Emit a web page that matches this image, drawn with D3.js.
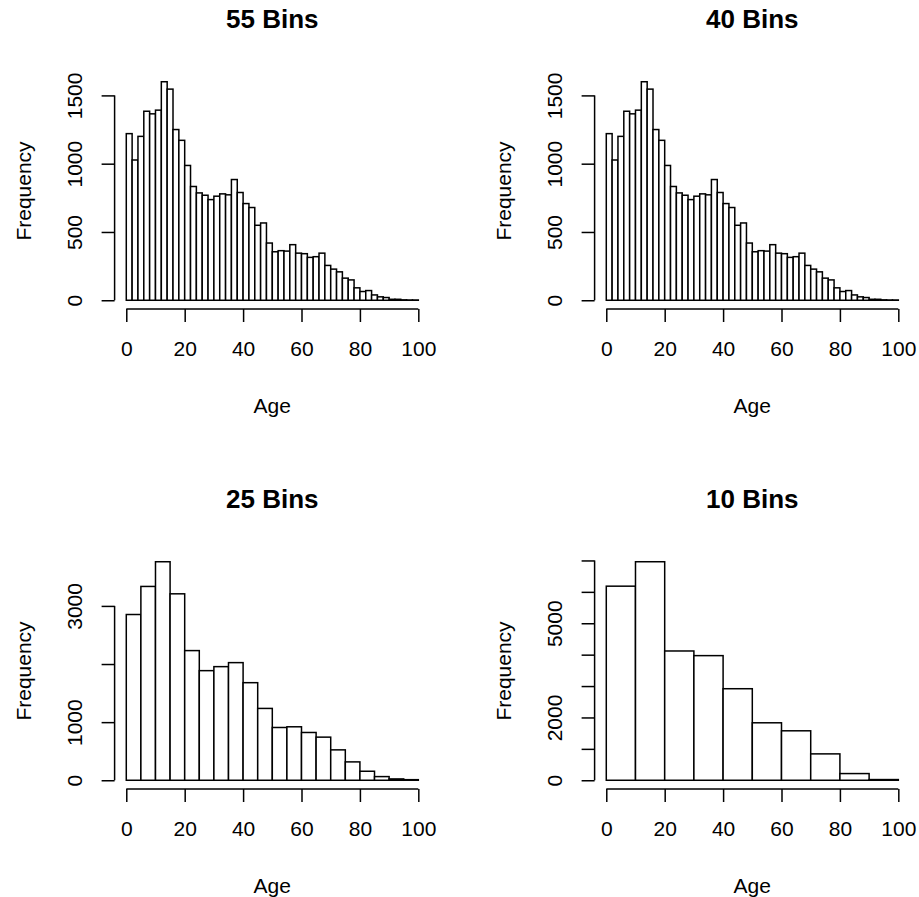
<!DOCTYPE html>
<html>
<head>
<meta charset="utf-8">
<script src="https://cdn.jsdelivr.net/npm/d3@7"></script>
<style>
  html, body { margin: 0; padding: 0; background: #fff; }
  svg text { font-family: "Liberation Sans", Arial, Helvetica, sans-serif; fill: #000; }
</style>
</head>
<body>
<svg id="chart" width="919" height="897"></svg>
<script>
// ---- Data ----
const panelTitles = ["55 Bins", "40 Bins", "25 Bins", "10 Bins"];
const xTickValues = [0, 20, 40, 60, 80, 100];
const xLabel = "Age";
const yLabel = "Frequency";

// 2-year bins 0..100 (used by the "55 Bins" and "40 Bins" panels)
const breaks2 = d3.range(0, 101, 2);
const counts2 = [1220, 1027, 1200, 1384, 1365, 1392, 1600, 1546, 1250, 1171,
                 987, 833, 786, 769, 737, 762, 779, 772, 884, 789,
                 708, 679, 549, 566, 419, 355, 363, 360, 407, 345,
                 341, 314, 319, 345, 255, 228, 208, 162, 149, 91,
                 64, 71, 39, 25, 20, 7, 7, 3, 2, 2];
// 5-year bins ("25 Bins" panel)
const breaks5 = d3.range(0, 101, 5);
const counts5 = [2852, 3335, 3760, 3208, 2231, 1886, 1955, 2024, 1679, 1236,
                 908, 920, 822, 742, 523, 316, 155, 63, 23, 10];
// 10-year bins ("10 Bins" panel)
const breaks10 = d3.range(0, 101, 10);
const counts10 = [6181, 6959, 4117, 3969, 2915, 1830, 1575, 840, 213, 22];

// y-axis ticks and the labels that are printed
const yTicks55 = [0, 500, 1000, 1500];
const yLabels55 = [0, 500, 1000, 1500];
const yTicks25 = [0, 1000, 2000, 3000];
const yLabels25 = [0, 1000, 3000];
const yTicks10 = [0, 1000, 2000, 3000, 4000, 5000, 6000, 7000];
const yLabels10 = [0, 2000, 5000];

const panels = [
  {title: panelTitles[0], breaks: breaks2,  counts: counts2,  yTicks: yTicks55, yLabels: yLabels55, col: 0, row: 0},
  {title: panelTitles[1], breaks: breaks2,  counts: counts2,  yTicks: yTicks55, yLabels: yLabels55, col: 1, row: 0},
  {title: panelTitles[2], breaks: breaks5,  counts: counts5,  yTicks: yTicks25, yLabels: yLabels25, col: 0, row: 1},
  {title: panelTitles[3], breaks: breaks10, counts: counts10, yTicks: yTicks10, yLabels: yLabels10, col: 1, row: 1}
];

// ---- Layout ----
const svg = d3.select("#chart");
const plotW = 315.4, plotH = 236;
const originX = 114.6, originY = 73, offset = 480;
const lw = 1.5;
const tickLen = 13;
const axisFont = 21, titleFont = 26;

panels.forEach(p => {
  const left = originX + p.col * offset;
  const top = originY + p.row * offset;
  const right = left + plotW, bottom = top + plotH;
  const maxC = d3.max(p.counts);
  const x = d3.scaleLinear().domain([-4, 104]).range([left, right]);
  const y = d3.scaleLinear().domain([-0.04 * maxC, 1.04 * maxC]).range([bottom, top]);

  const g = svg.append("g");

  // bars
  const bins = p.counts.map((c, i) => ({x0: p.breaks[i], x1: p.breaks[i + 1], c}));
  g.selectAll("rect.bar").data(bins).join("rect")
    .attr("class", "bar")
    .attr("x", d => x(d.x0))
    .attr("width", d => x(d.x1) - x(d.x0))
    .attr("y", d => y(d.c))
    .attr("height", d => y(0) - y(d.c))
    .attr("fill", "#fff")
    .attr("stroke", "#000")
    .attr("stroke-width", lw);

  // x axis
  const xa = g.append("g").attr("transform", `translate(0,${bottom})`)
    .call(d3.axisBottom(x).tickValues(xTickValues).tickSize(tickLen).tickFormat(d3.format("d")));
  xa.select(".domain").remove();
  xa.selectAll(".tick line").attr("stroke", "#000").attr("stroke-width", lw);
  xa.selectAll(".tick text").attr("y", 40).attr("dy", "0.35em")
    .attr("font-size", axisFont).attr("font-family", null);
  xa.append("line").attr("x1", x(xTickValues[0])).attr("x2", x(xTickValues[xTickValues.length - 1]))
    .attr("y1", 0).attr("y2", 0).attr("stroke", "#000").attr("stroke-width", lw);

  // y axis
  const ya = g.append("g").attr("transform", `translate(${left},0)`)
    .call(d3.axisLeft(y).tickValues(p.yTicks).tickSize(tickLen)
      .tickFormat(d => p.yLabels.includes(d) ? d3.format("d")(d) : ""));
  ya.select(".domain").remove();
  ya.selectAll(".tick line").attr("stroke", "#000").attr("stroke-width", lw);
  ya.selectAll(".tick text")
    .attr("x", null).attr("dy", null)
    .attr("transform", "translate(-40,0) rotate(-90)")
    .attr("text-anchor", "middle")
    .attr("dominant-baseline", "central")
    .attr("font-size", axisFont).attr("font-family", null);
  ya.append("line").attr("x1", 0).attr("x2", 0)
    .attr("y1", y(p.yTicks[0])).attr("y2", y(p.yTicks[p.yTicks.length - 1]))
    .attr("stroke", "#000").attr("stroke-width", lw);

  // title
  g.append("text").attr("x", (left + right) / 2).attr("y", top - 44.7)
    .attr("text-anchor", "middle").attr("font-size", titleFont).attr("font-weight", "bold")
    .text(p.title);
  // x label
  g.append("text").attr("x", (left + right) / 2).attr("y", bottom + 96)
    .attr("text-anchor", "middle").attr("dominant-baseline", "central")
    .attr("font-size", axisFont).text(xLabel);
  // y label
  g.append("text").attr("transform", `translate(${left - 91.6},${(top + bottom) / 2}) rotate(-90)`)
    .attr("text-anchor", "middle").attr("dominant-baseline", "central")
    .attr("font-size", axisFont).text(yLabel);
});
</script>
</body>
</html>
